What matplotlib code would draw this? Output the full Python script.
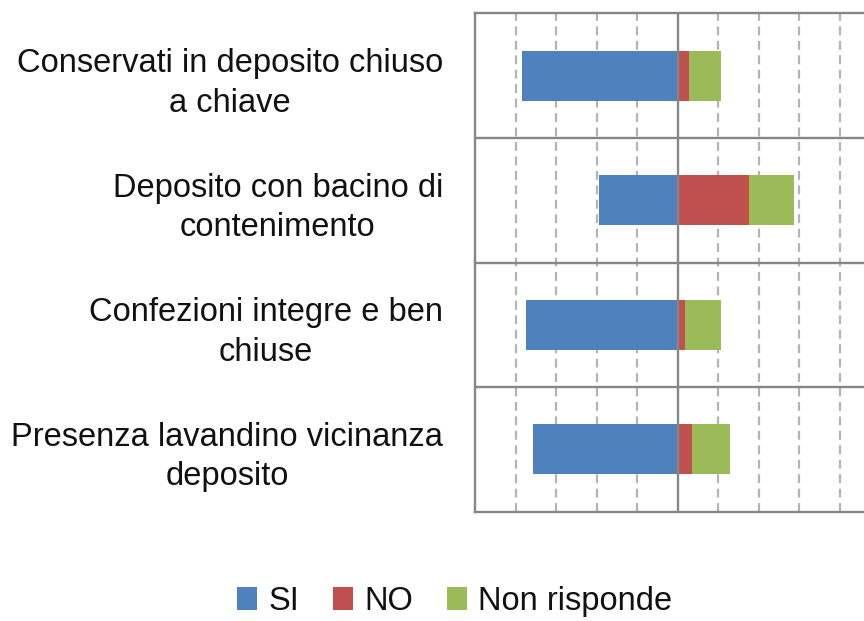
import matplotlib
matplotlib.use("Agg")
import matplotlib.pyplot as plt
import numpy as np

# Categories and percentages (SI plotted to the left of zero)
categories = [
    "Conservati in deposito chiuso\na chiave",
    "Deposito con bacino di\ncontenimento",
    "Confezioni integre e ben\nchiuse",
    "Presenza lavandino vicinanza\ndeposito",
]
si = [76.6, 38.6, 75.0, 71.6]
no = [5.8, 35.2, 3.8, 7.2]
non_risponde = [15.8, 22.2, 17.8, 18.8]
series_names = ["SI", "NO", "Non risponde"]

plt.rcParams["font.family"] = ["Liberation Sans", "DejaVu Sans"]

blue, red, green = "#4F81BD", "#C0504D", "#9BBB59"
edge = "#868686"

fig = plt.figure(figsize=(8.64, 6.21), dpi=100)
ax = fig.add_axes([475 / 864, 109.3 / 621, 405 / 864, 498.4 / 621])

y = np.arange(len(categories))
h = 0.4
si_arr = np.array(si)
no_arr = np.array(no)
nr_arr = np.array(non_risponde)

ax.barh(y, -si_arr, height=h, color=blue, label=series_names[0], zorder=2)
ax.barh(y, no_arr, height=h, color=red, label=series_names[1], zorder=2)
ax.barh(y, nr_arr, left=no_arr, height=h, color=green, label=series_names[2], zorder=2)

ax.set_xlim(-100, 100)
ax.set_ylim(len(categories) - 0.5, -0.5)

# dashed vertical gridlines
for gx in [-80, -60, -40, -20, 20, 40, 60, 80]:
    ax.axvline(gx, color="#B4B4B4", lw=1.6, ls=(0, (4, 2.5)), zorder=1)
ax.axvline(0, color=edge, lw=1.7, zorder=3)
# separators between categories
for sy in np.arange(0.5, len(categories) - 0.5, 1):
    ax.axhline(sy, color=edge, lw=1.7, zorder=3)

for s in ax.spines.values():
    s.set_color(edge)
    s.set_linewidth(1.7)

ax.set_xticks([])
ax.set_yticks(y)
ax.set_yticklabels(categories, fontsize=23.5, color="#111111")
ax.tick_params(axis="y", length=0, pad=23)
for lab in ax.get_yticklabels():
    lab.set_multialignment("center")
    lab.set_linespacing(1.35)

fig.legend(loc="center", bbox_to_anchor=(455 / 864, 0.031), ncol=3, frameon=False,
           fontsize=23.5, handlelength=0.6, handleheight=0.7, handletextpad=0.35,
           columnspacing=1.05, labelcolor="#111111")

fig.savefig("out.png", dpi=100)
